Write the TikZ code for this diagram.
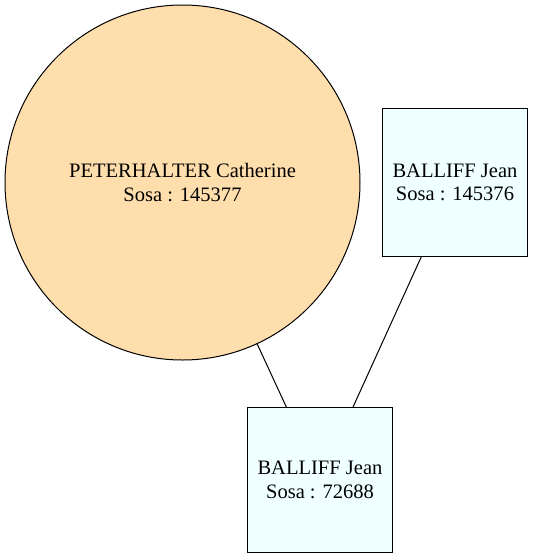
\documentclass[tikz,border=0pt]{standalone}
\usepackage{fontspec}
\setmainfont{Liberation Serif}
\usetikzlibrary{positioning}
\definecolor{navajo}{HTML}{FFDEAD}
\definecolor{azurebox}{HTML}{F0FFFF}

\begin{document}
\begin{tikzpicture}[%
    x=0.75pt, y=-0.75pt,        % work on the pixel grid of the original
    every node/.style={font=\fontsize{15.4}{17.5}\selectfont, align=center},
    ]
% -------------------------------------------------
% Box styles
\tikzset{
  base/.style={draw, line width=0.75pt, inner sep=0pt, outer sep=0pt},
  wife/.style={base, circle, fill=navajo, minimum size=266.25pt},
  man/.style={base, rectangle, fill=azurebox, minimum width=108.75pt},
  % Connector line style
  link/.style={draw, line width=0.75pt},
}
\useasboundingbox (0,0) rectangle (537,558);
% -------------------------------------------------
% Place the persons
\node [wife] (cath) at (182.5,182.5) {PETERHALTER Catherine\\Sosa : 145377};
\node [man, minimum height=111pt] (jeanA) at (455,182.5) {BALLIFF Jean\\Sosa : 145376};
\node [man, minimum height=108.75pt] (jeanB) at (320,480) {BALLIFF Jean\\Sosa : 72688};

% Parents to child
\draw [link] (cath) -- (jeanB);
\draw [link] (jeanA) -- (jeanB);
% -------------------------------------------------
\end{tikzpicture}
\end{document}
